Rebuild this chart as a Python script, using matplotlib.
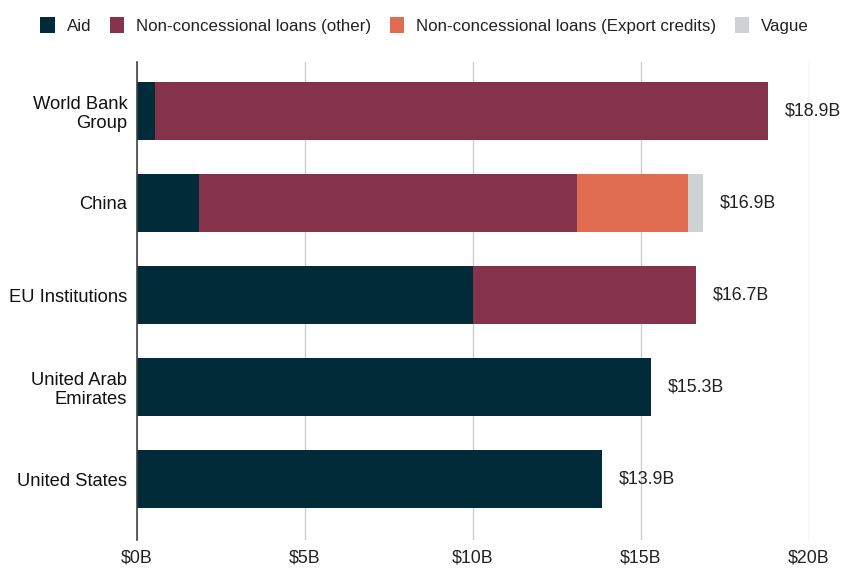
import matplotlib
matplotlib.use("Agg")
import matplotlib.pyplot as plt
from matplotlib.patches import Patch
import numpy as np

plt.rcParams['font.family'] = ['Liberation Sans', 'DejaVu Sans']

categories = ["World Bank\nGroup", "China", "EU Institutions", "United Arab\nEmirates", "United States"]
series_names = ["Aid", "Non-concessional loans (other)", "Non-concessional loans (Export credits)", "Vague"]
aid = [0.55, 1.86, 10.0, 15.3, 13.85]
other = [18.25, 11.24, 6.65, 0.0, 0.0]
export = [0.0, 3.31, 0.0, 0.0, 0.0]
vague = [0.0, 0.45, 0.0, 0.0, 0.0]
total_labels = ["$18.9B", "$16.9B", "$16.7B", "$15.3B", "$13.9B"]
xticks = [0, 5, 10, 15, 20]
xtick_labels = ["$0B", "$5B", "$10B", "$15B", "$20B"]

colors = ["#022b3a", "#84334b", "#e06c52", "#cdd2d2"]

fig = plt.figure(figsize=(8.44, 5.68), dpi=100)
ax = fig.add_axes([0.1623, 0.049, 0.796, 0.842])

y = np.arange(len(categories))
left = np.zeros(len(categories))
for vals, col in zip([aid, other, export, vague], colors):
    vals = np.array(vals)
    ax.barh(y, vals, left=left, height=0.63, color=col, edgecolor='none', zorder=3)
    left += vals

for yi, tot, lab in zip(y, left, total_labels):
    ax.text(tot + 0.5, yi, lab, va='center', ha='left', fontsize=12.8, color='#222222')

ax.set_xlim(0, 20)
ax.set_ylim(4.66, -0.53)
ax.set_yticks(y)
ax.set_yticklabels(categories, fontsize=13.2, color='#111111', ha='right', linespacing=1.15)
ax.tick_params(axis='y', length=0, pad=7)
ax.set_xticks(xticks)
ax.set_xticklabels(xtick_labels, fontsize=12.8, color='#222222')
ax.tick_params(axis='x', length=0, pad=7)
ax.grid(axis='x', color='#cccccc', linewidth=1, zorder=0)
ax.grid(axis='y', visible=False)
for s in ['top', 'right', 'bottom']:
    ax.spines[s].set_visible(False)
ax.spines['left'].set_color('#444444')
ax.spines['left'].set_linewidth(1.2)
ax.spines['left'].set_zorder(4)

handles = [Patch(facecolor=c, edgecolor='none') for c in colors]
fig.legend(handles, series_names, loc='center', bbox_to_anchor=(0.503, 0.955), ncol=4,
           frameon=False, fontsize=12.2, handlelength=0.85, handleheight=1.05,
           handletextpad=0.7, columnspacing=1.1, labelcolor='#222222')

fig.savefig("out.png", dpi=100)
